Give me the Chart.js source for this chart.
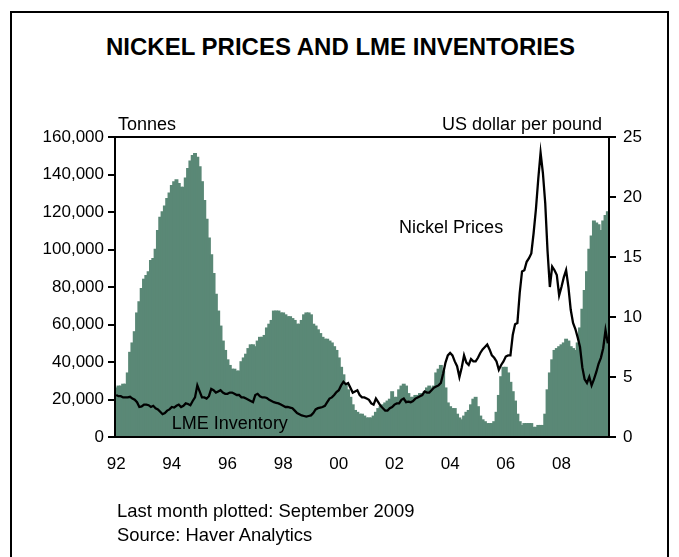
<!DOCTYPE html>
<html>
<head>
<meta charset="utf-8">
<script src="https://cdn.jsdelivr.net/npm/chart.js@4"></script>
<style>
  body { margin: 0; background: #fff; }
  #wrap { position: relative; width: 679px; height: 557px; overflow: hidden;
          font-family: "Liberation Sans", Arial, sans-serif; color: #000; }
  #frame { position: absolute; left: 10px; top: 11px; width: 655px; height: 620px;
           border: 2px solid #000; }
  #title { position: absolute; left: 0; top: 33px; width: 681px; text-align: center;
           font-weight: bold; font-size: 24px; line-height: 28px; }
  .note { position: absolute; left: 117px; font-size: 18.4px; line-height: 20px; }
  canvas { position: absolute; left: 0; top: 0; }
</style>
</head>
<body>
<div id="wrap">
  <div id="frame"></div>
  <div id="title">NICKEL PRICES AND LME INVENTORIES</div>
  <canvas id="chart" width="679" height="557"></canvas>
  <div class="note" style="top:501px">Last month plotted: September 2009</div>
  <div class="note" style="top:525px">Source: Haver Analytics</div>
</div>
<script>
// Monthly observations, January 1992 to September 2009
const firstYear = 1992;
const lastYear = 2009;
const lastMonthOfLastYear = 9;

// LME nickel inventory, thousand tonnes
const inventoryThousandTonnes = [
  26, 27, 27, 28, 28, 34, 45, 50, 56, 66,
  72, 79, 84, 86, 88, 94, 95, 100, 110, 117,
  120, 123, 127, 130, 134, 136, 137, 135, 133, 133,
  138, 143, 147, 150, 151, 149, 144, 136, 126, 116,
  106, 97, 87, 76, 67, 59, 51, 46, 41, 38,
  36, 36, 35, 35, 40, 42, 44, 47, 49, 49,
  48, 51, 53, 53, 54, 58, 60, 62, 67, 67,
  67, 66, 66, 65, 64, 64, 63, 62, 60, 60,
  62, 65, 66, 66, 65, 60, 59, 57, 55, 53,
  52, 52, 51, 50, 48, 46, 42, 37, 33, 28,
  25, 21, 17, 14, 13, 12, 12, 11, 10, 10,
  10, 11, 13, 15, 16, 17, 18, 19, 20, 24,
  21, 21, 25, 27, 28, 27, 23, 21, 21, 22,
  22, 23, 23, 24, 26, 27, 26, 27, 34, 36,
  38, 35, 26, 18, 16, 15, 15, 12, 10, 9,
  11, 13, 14, 17, 20, 21, 16, 11, 9, 8,
  7, 7, 7, 8, 13, 22, 32, 37, 37, 34,
  29, 24, 19, 12, 8, 6, 7, 7, 7, 7,
  5, 5, 6, 6, 6, 12, 25, 34, 41, 46,
  47, 48, 49, 50, 52, 51, 48, 47, 46, 50,
  58, 68, 78, 88, 100, 107, 115, 114, 113, 110,
  115, 118, 120
];

// Nickel price, US dollars per pound
const nickelPrice = [
  3.5, 3.4, 3.4, 3.3, 3.3, 3.3, 3.35, 3.2, 3.1, 2.9,
  2.5, 2.55, 2.7, 2.7, 2.65, 2.5, 2.6, 2.4, 2.3, 2.1,
  1.9, 2.0, 2.2, 2.3, 2.5, 2.45, 2.6, 2.7, 2.5, 2.6,
  2.8, 2.75, 2.65, 3.0, 3.3, 4.3, 3.8, 3.3, 3.3, 3.2,
  3.4, 4.0, 3.9, 3.7, 3.8, 3.9, 3.7, 3.6, 3.6, 3.7,
  3.7, 3.6, 3.5, 3.5, 3.3, 3.3, 3.2, 3.1, 3.0, 2.9,
  3.5, 3.6, 3.4, 3.3, 3.3, 3.25, 3.1, 3.0, 2.9, 2.85,
  2.8, 2.7, 2.6, 2.5, 2.5, 2.45, 2.4, 2.2, 2.0, 1.9,
  1.8, 1.75, 1.7, 1.75, 1.8, 2.0, 2.3, 2.4, 2.45, 2.5,
  2.6, 2.9, 3.2, 3.3, 3.5, 3.75, 3.9, 4.3, 4.6, 4.4,
  4.5, 4.1, 3.7, 3.8, 3.9, 3.5, 3.3, 3.3, 3.2, 3.1,
  2.8, 2.7, 3.2, 2.9, 2.6, 2.4, 2.2, 2.2, 2.4, 2.5,
  2.7, 2.8, 2.8, 3.1, 3.2, 2.9, 2.95, 2.9, 3.0, 3.2,
  3.3, 3.4, 3.5, 3.8, 3.7, 3.7, 3.9, 4.1, 4.2, 4.3,
  4.5, 5.3, 6.2, 6.8, 7.0, 6.8, 6.3, 5.9, 5.0, 5.8,
  6.8, 6.2, 6.0, 6.5, 6.3, 6.3, 6.6, 7.0, 7.3, 7.5,
  7.7, 7.3, 6.8, 6.6, 6.3, 5.6, 6.0, 6.3, 6.7, 6.8,
  6.8, 8.5, 9.4, 9.5, 12.0, 13.8, 13.9, 14.6, 14.9, 15.3,
  17.0, 19.0, 21.5, 23.7, 22.0, 19.5, 15.5, 12.5, 14.2, 13.9,
  13.5, 11.8, 12.5, 13.3, 13.9, 12.5, 10.6, 9.5, 9.0, 8.3,
  7.5, 5.8, 4.8, 4.5, 5.0, 4.3, 4.8, 5.4, 6.1, 6.6,
  7.4, 8.9, 7.8
];

// Labels on the time axis, one every two years
const yearTickLabels = ['92', '94', '96', '98', '00', '02', '04', '06', '08'];

const months = [];
for (let y = firstYear; y <= lastYear; y++) {
  const last = y === lastYear ? lastMonthOfLastYear : 12;
  for (let m = 1; m <= last; m++) months.push(y + '-' + String(m).padStart(2, '0'));
}

const FONT = "'Liberation Sans', Arial, sans-serif";
const BAR_GREEN = 'rgb(90,136,118)';
Chart.defaults.font.family = FONT;
Chart.defaults.color = '#000';

// Plot frame and in-plot captions
const decorations = {
  id: 'decorations',
  afterDatasetsDraw(chart) {
    const { ctx, chartArea: a, scales } = chart;
    ctx.save();
    ctx.strokeStyle = '#000';
    ctx.lineWidth = 2;
    ctx.strokeRect(a.left, a.top, a.right - a.left, a.bottom - a.top);

    ctx.fillStyle = '#000';
    ctx.font = '18px ' + FONT;
    ctx.textBaseline = 'middle';
    ctx.textAlign = 'left';
    ctx.fillText('Tonnes', a.left + 3, a.top - 12);
    ctx.textAlign = 'right';
    ctx.fillText('US dollar per pound', a.right - 7, a.top - 12);

    ctx.textAlign = 'left';
    ctx.fillText('Nickel Prices', scales.x.getPixelForValue(122), scales.y1.getPixelForValue(17.4));
    ctx.fillText('LME Inventory', scales.x.getPixelForValue(24), scales.y.getPixelForValue(7000));
    ctx.restore();
  }
};

new Chart(document.getElementById('chart'), {
  data: {
    labels: months,
    datasets: [
      {
        type: 'line',
        label: 'Nickel Prices',
        data: nickelPrice,
        yAxisID: 'y1',
        borderColor: '#000',
        borderWidth: 2.3,
        pointRadius: 0,
        tension: 0,
        order: 0
      },
      {
        type: 'bar',
        label: 'LME Inventory',
        data: inventoryThousandTonnes.map(v => v * 1000),
        yAxisID: 'y',
        backgroundColor: BAR_GREEN,
        borderWidth: 0,
        inflateAmount: 0.8,
        barPercentage: 1,
        categoryPercentage: 1,
        order: 1
      }
    ]
  },
  options: {
    responsive: false,
    animation: false,
    events: [],
    layout: { padding: { top: 137, left: 0, right: 0, bottom: 0 } },
    plugins: { legend: { display: false }, tooltip: { enabled: false }, title: { display: false } },
    scales: {
      x: {
        type: 'category',
        offset: true,
        grid: { display: false, drawTicks: false },
        border: { display: true, color: '#000', width: 2 },
        ticks: {
          autoSkip: false,
          maxRotation: 0,
          padding: 17,
          font: { size: 17 },
          color: '#000',
          callback: (v, i) => (i % 24 === 0 ? yearTickLabels[i / 24] : '')
        },
        afterFit: s => { s.height = 120; }
      },
      y: {
        position: 'left',
        min: 0,
        max: 160000,
        ticks: {
          stepSize: 20000,
          padding: 4,
          font: { size: 17 },
          color: '#000',
          callback: v => v.toLocaleString('en-US')
        },
        grid: { display: true, drawOnChartArea: false, drawTicks: true, tickLength: 7, color: '#000', lineWidth: 2 },
        border: { display: true, color: '#000', width: 2 },
        afterFit: s => { s.width = 115; }
      },
      y1: {
        position: 'right',
        min: 0,
        max: 25,
        ticks: { stepSize: 5, padding: 7, font: { size: 17 }, color: '#000' },
        grid: { display: true, drawOnChartArea: false, drawTicks: true, tickLength: 7, color: '#000', lineWidth: 2 },
        border: { display: true, color: '#000', width: 2 },
        afterFit: s => { s.width = 70; }
      }
    }
  },
  plugins: [decorations]
});
</script>
</body>
</html>
